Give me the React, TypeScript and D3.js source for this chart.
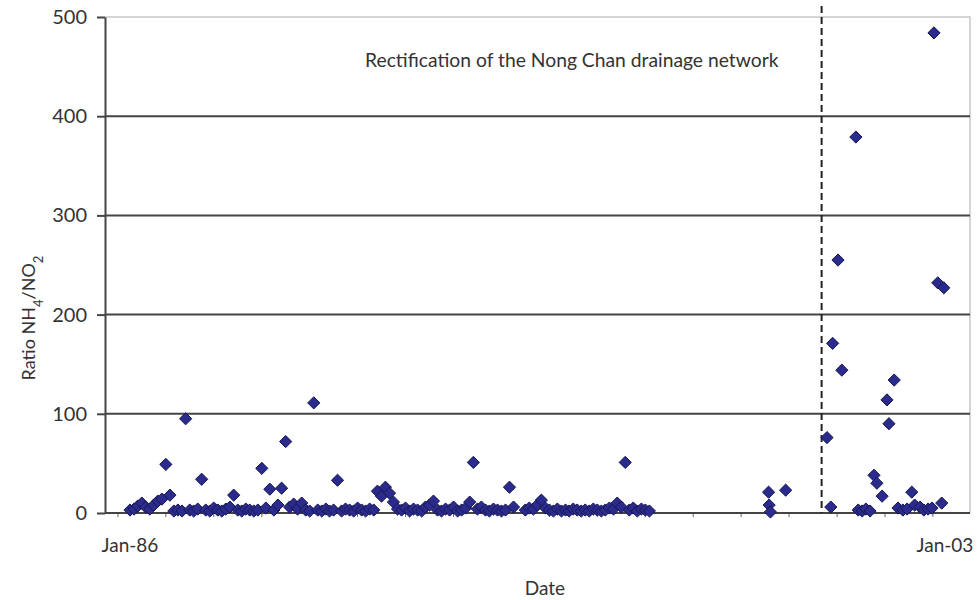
import React, { useRef, useEffect } from 'react';
import * as d3 from 'd3';

// monthly samples, Jan..Dec (null = no sample that month)
const ratios1986 = [3, 4, 7, 10, 6, 4, 8, 12, 14, 49, 18, 2];
const ratios1987 = [3, 2, 95, 3, 2, 4, 34, 3, 2, 5, 3, 2];
const ratios1988 = [4, 6, 18, 3, 2, 4, 3, 2, 3, 45, 5, 24];
const ratios1989 = [3, 8, 25, 72, 6, 9, 4, 10, 3, 2, 111, 3];
const ratios1990 = [2, 4, 2, 3, 33, 2, 4, 3, 2, 5, 3, 2];
const ratios1991 = [4, 3, 22, 17, 26, 20, 11, 4, 3, 5, 2, 4];
const ratios1992 = [3, 2, 6, 8, 12, 3, 2, 4, 3, 6, 2, 3];
const ratios1993 = [5, 11, 51, 4, 6, 3, 2, 4, 3, 2, 3, 26];
const ratios1994 = [6, null, null, 3, 5, 4, 8, 13, 5, 3, 2, 4];
const ratios1995 = [2, 3, 2, 4, 3, 2, 3, 2, 4, 3, 2, 3];
const ratios1996 = [5, 4, 10, 6, 51, 3, 5, 2, 4, 3, 2, null];

const monthlyYears = [1986, 1987, 1988, 1989, 1990, 1991, 1992, 1993, 1994, 1995, 1996];
const monthlyRatios = [
  ratios1986, ratios1987, ratios1988, ratios1989, ratios1990, ratios1991,
  ratios1992, ratios1993, ratios1994, ratios1995, ratios1996,
];

// irregular samples after 1996
const lateDates = [
  '1999-04-28', '1999-05-02', '1999-05-12', '1999-09-05',
  '2000-07-16', '2000-08-14', '2000-08-28', '2000-10-08', '2000-11-06',
  '2001-02-21', '2001-03-11', '2001-04-10', '2001-05-08', '2001-06-09',
  '2001-07-09', '2001-07-31', '2001-09-09', '2001-10-16', '2001-10-31', '2001-12-10',
  '2002-01-08', '2002-02-14', '2002-03-18', '2002-04-23', '2002-05-15',
  '2002-06-24', '2002-07-24', '2002-08-25', '2002-09-24', '2002-10-09',
  '2002-11-07', '2002-12-07', '2002-12-23',
];
const lateRatios = [
  21, 8, 1, 23,
  76, 6, 171, 255, 144,
  379, 3, 2, 4, 2,
  38, 30, 17, 114, 90, 134,
  5, 3, 4, 21, 8,
  6, 3, 4, 5, 484,
  232, 10, 227,
];

const yTicks = [0, 100, 200, 300, 400, 500];
const xLabels = [
  { date: '1986-01-01', text: 'Jan-86' },
  { date: '2003-01-01', text: 'Jan-03' },
];
const rectificationDate = '2000-06-05';
const rectificationLabel = 'Rectification of the Nong Chan drainage network';

const font = "Lato, 'Open Sans', sans-serif";

const App: React.FC = () => {
  const svgRef = useRef<SVGSVGElement | null>(null);

  useEffect(() => {
    if (!svgRef.current) return;
    const svg = d3.select(svgRef.current);
    svg.selectAll('*').remove();

    const width = 978;
    const height = 600;
    const plot = { left: 105, right: 970, top: 17, bottom: 513 };

    svg.attr('width', width).attr('height', height);
    svg.append('rect').attr('width', width).attr('height', height).attr('fill', '#fff');

    const parse = d3.timeParse('%Y-%m-%d');

    const points: { date: Date; value: number }[] = [];
    monthlyYears.forEach((yr, i) => {
      monthlyRatios[i].forEach((v, m) => {
        if (v !== null) points.push({ date: new Date(yr, m, 1), value: v });
      });
    });
    lateDates.forEach((d, i) => points.push({ date: parse(d)!, value: lateRatios[i] }));

    const x = d3.scaleTime()
      .domain([parse('1986-01-01')!, parse('2003-01-01')!])
      .range([130, 945]);

    const y = d3.scaleLinear()
      .domain([0, 500])
      .range([plot.bottom, plot.top]);

    // plot border (light)
    svg.append('path')
      .attr('d', `M${plot.left},${plot.top}H${plot.right}V${plot.bottom}`)
      .attr('fill', 'none')
      .attr('stroke', '#c8c8c8')
      .attr('stroke-width', 1.5);

    // gridlines
    svg.append('g')
      .selectAll('line')
      .data(yTicks.filter(t => t > 0 && t < 500))
      .join('line')
      .attr('x1', plot.left)
      .attr('x2', plot.right)
      .attr('y1', d => y(d))
      .attr('y2', d => y(d))
      .attr('stroke', '#444')
      .attr('stroke-width', 2);

    // y axis
    const yAxis = svg.append('g')
      .attr('transform', `translate(${plot.left},0)`)
      .call(d3.axisLeft(y).tickValues(yTicks).tickSize(8).tickPadding(10).tickSizeOuter(0));
    yAxis.select('.domain').attr('stroke', '#444').attr('stroke-width', 2);
    yAxis.selectAll('.tick line').attr('stroke', '#444').attr('stroke-width', 2);
    yAxis.selectAll('.tick text')
      .style('font-family', font)
      .style('font-size', '20px')
      .attr('fill', '#333');

    // x axis baseline and yearly minor ticks
    const minorTicks = d3.range(1985, 2003).map(yr => new Date(yr, 9, 1));
    svg.append('g')
      .selectAll('line')
      .data(minorTicks)
      .join('line')
      .attr('x1', d => x(d))
      .attr('x2', d => x(d))
      .attr('y1', plot.bottom)
      .attr('y2', plot.bottom + 4)
      .attr('stroke', '#666')
      .attr('stroke-width', 1);

    svg.append('line')
      .attr('x1', plot.left)
      .attr('x2', plot.right)
      .attr('y1', plot.bottom)
      .attr('y2', plot.bottom)
      .attr('stroke', '#444')
      .attr('stroke-width', 2);

    svg.append('g')
      .selectAll('text')
      .data(xLabels)
      .join('text')
      .attr('x', d => x(parse(d.date)!))
      .attr('y', 552)
      .attr('text-anchor', 'middle')
      .style('font-family', font)
      .style('font-size', '19px')
      .attr('fill', '#333')
      .text(d => d.text);

    svg.append('text')
      .attr('x', 545)
      .attr('y', 595)
      .attr('text-anchor', 'middle')
      .style('font-family', font)
      .style('font-size', '19px')
      .attr('fill', '#333')
      .text('Date');

    // y axis title with subscripts
    const yTitle = svg.append('text')
      .attr('transform', 'translate(35,318) rotate(-90)')
      .attr('text-anchor', 'middle')
      .style('font-family', font)
      .style('font-size', '18px')
      .attr('fill', '#333');
    yTitle.append('tspan').text('Ratio NH');
    yTitle.append('tspan').attr('baseline-shift', 'sub').style('font-size', '13px').text('4');
    yTitle.append('tspan').text('/NO');
    yTitle.append('tspan').attr('baseline-shift', 'sub').style('font-size', '13px').text('2');

    // rectification marker
    const rx = x(parse(rectificationDate)!);
    svg.append('line')
      .attr('x1', rx)
      .attr('x2', rx)
      .attr('y1', 6)
      .attr('y2', plot.bottom)
      .attr('stroke', '#222')
      .attr('stroke-width', 2)
      .attr('stroke-dasharray', '7,4');

    svg.append('text')
      .attr('x', 365)
      .attr('y', 67)
      .style('font-family', font)
      .style('font-size', '19.3px')
      .attr('fill', '#333')
      .text(rectificationLabel);

    // data points
    const diamond = d3.symbol().type(d3.symbolDiamond2).size(95);
    svg.append('g')
      .selectAll('path')
      .data(points)
      .join('path')
      .attr('transform', d => `translate(${x(d.date)},${y(d.value)})`)
      .attr('d', diamond)
      .attr('fill', '#2b2b8e')
      .attr('stroke', '#17174f')
      .attr('stroke-width', 1);
  }, []);

  return <svg ref={svgRef} style={{ position: 'absolute', left: 0, top: 0 }}></svg>;
};

export default App;
